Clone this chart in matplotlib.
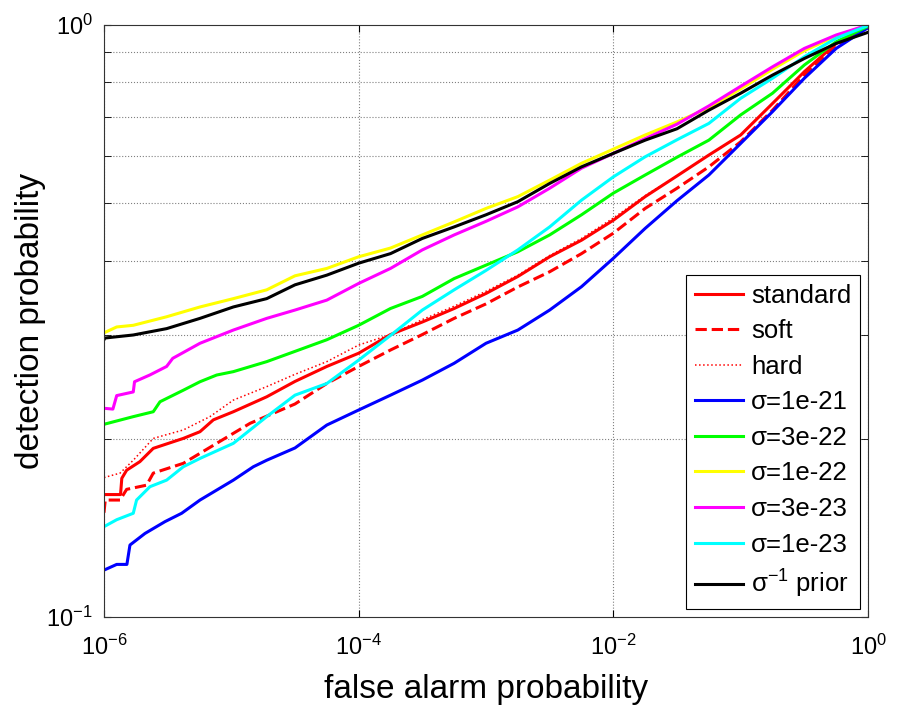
import numpy as np
import matplotlib
matplotlib.use('Agg')
import matplotlib.pyplot as plt
from matplotlib.ticker import FixedLocator, NullFormatter, NullLocator, LogFormatterSciNotation

plt.rcParams['font.family'] = ['Liberation Sans', 'DejaVu Sans']
plt.rcParams['mathtext.fontset'] = 'custom'
plt.rcParams['mathtext.rm'] = 'Liberation Sans'
plt.rcParams['mathtext.it'] = 'Liberation Sans:italic'
plt.rcParams['mathtext.bf'] = 'Liberation Sans:bold'

# log10(false alarm probability) grid shared by the right part of every curve
right_logfap = [-4.5, -4.25, -4.0, -3.75, -3.5, -3.25, -3.0, -2.75, -2.5, -2.25,
                -2.0, -1.75, -1.5, -1.25, -1.0, -0.75, -0.5, -0.25, 0.0]

# standard
std_left_x = [-6.0, -5.87, -5.86, -5.822, -5.718, -5.613, -5.377, -5.246, -5.141, -4.984, -4.722]
std_left_y = [0.161, 0.161, 0.1715, 0.177, 0.183, 0.1927, 0.2003, 0.2056, 0.2153, 0.2222, 0.2355]
std_right_y = [0.250, 0.265, 0.279, 0.300, 0.315, 0.332, 0.352, 0.376, 0.406, 0.433,
               0.468, 0.513, 0.556, 0.603, 0.652, 0.737, 0.834, 0.931, 0.99]

# soft
soft_left_x = [-6.0, -5.99, -5.874, -5.822, -5.665, -5.613, -5.377, -5.115, -4.853]
soft_left_y = [0.150, 0.1576, 0.1576, 0.1643, 0.167, 0.175, 0.1818, 0.1965, 0.2124]
soft_right_y = [0.229, 0.248, 0.265, 0.2825, 0.300, 0.3195, 0.338, 0.361, 0.383, 0.411,
                0.445, 0.490, 0.530, 0.576, 0.635, 0.718, 0.823, 0.925, 0.99]

# hard
hard_left_x = [-6.0, -5.874, -5.77, -5.613, -5.377, -5.168, -4.984, -4.722]
hard_left_y = [0.172, 0.175, 0.184, 0.2003, 0.207, 0.218, 0.2325, 0.245]
hard_right_y = [0.257, 0.270, 0.288, 0.300, 0.318, 0.335, 0.355, 0.378, 0.408, 0.436,
                0.472, 0.515, 0.556, 0.603, 0.652, 0.737, 0.834, 0.931, 0.99]

# sigma = 1e-21
s1e21_left_x = [-6.0, -5.90, -5.82, -5.796, -5.678, -5.521, -5.39, -5.246, -4.984, -4.827, -4.722]
s1e21_left_y = [0.120, 0.1227, 0.1227, 0.1323, 0.1384, 0.1449, 0.1497, 0.1576, 0.1703, 0.1794, 0.184]
s1e21_right_y = [0.193, 0.211, 0.2237, 0.237, 0.2513, 0.2683, 0.290, 0.3053, 0.330, 0.3614,
                 0.4036, 0.4534, 0.505, 0.558, 0.631, 0.714, 0.813, 0.913, 0.99]

# sigma = 3e-22
s3e22_left_x = [-6.0, -5.77, -5.613, -5.56, -5.377, -5.246, -5.115, -4.984, -4.722]
s3e22_left_y = [0.2116, 0.218, 0.2222, 0.231, 0.2416, 0.2497, 0.2563, 0.2597, 0.270]
s3e22_right_y = [0.281, 0.294, 0.311, 0.332, 0.348, 0.373, 0.393, 0.414, 0.442, 0.478,
                 0.520, 0.558, 0.598, 0.639, 0.705, 0.767, 0.856, 0.937, 0.995]

# sigma = 1e-22
s1e22_left_x = [-6.0, -5.9, -5.77, -5.508, -5.246, -4.984, -4.722]
s1e22_left_y = [0.302, 0.309, 0.311, 0.3215, 0.334, 0.345, 0.357]
s1e22_right_y = [0.377, 0.388, 0.406, 0.420, 0.442, 0.465, 0.490, 0.513, 0.547, 0.584,
                 0.617, 0.652, 0.686, 0.725, 0.780, 0.842, 0.905, 0.958, 1.0]

# sigma = 3e-23
s3e23_left_x = [-6.0, -5.93, -5.90, -5.77, -5.76, -5.639, -5.508, -5.46, -5.246, -4.984, -4.722]
s3e23_left_y = [0.2252, 0.2245, 0.2366, 0.240, 0.2497, 0.2564, 0.265, 0.2735, 0.290, 0.3053, 0.3195]
s3e23_right_y = [0.330, 0.343, 0.366, 0.388, 0.417, 0.442, 0.466, 0.493, 0.530, 0.573,
                 0.607, 0.643, 0.680, 0.730, 0.788, 0.850, 0.913, 0.962, 1.0]

# sigma = 1e-23
s1e23_left_x = [-6.0, -5.90, -5.77, -5.744, -5.639, -5.508, -5.377, -5.246, -4.984, -4.722]
s1e23_left_y = [0.1421, 0.146, 0.1497, 0.1576, 0.166, 0.1703, 0.1794, 0.1853, 0.1965, 0.218]
s1e23_right_y = [0.237, 0.248, 0.2716, 0.299, 0.330, 0.357, 0.385, 0.417, 0.456, 0.506,
                 0.554, 0.599, 0.640, 0.682, 0.752, 0.813, 0.884, 0.950, 0.998]

# sigma^-1 prior
prior_left_x = [-6.0, -5.992, -5.77, -5.508, -5.246, -4.984, -4.722]
prior_left_y = [0.294, 0.296, 0.2995, 0.307, 0.3195, 0.334, 0.345]
prior_right_y = [0.364, 0.378, 0.396, 0.411, 0.436, 0.456, 0.478, 0.503, 0.540, 0.576,
                 0.607, 0.639, 0.668, 0.718, 0.767, 0.823, 0.878, 0.931, 0.972]

curves = [
    ('standard', std_left_x, std_left_y, std_right_y, (1, 0, 0), '-', 2.2),
    ('soft', soft_left_x, soft_left_y, soft_right_y, (1, 0, 0), '--', 2.2),
    ('hard', hard_left_x, hard_left_y, hard_right_y, (1, 0, 0), ':', 1.1),
    ('σ=1e-21', s1e21_left_x, s1e21_left_y, s1e21_right_y, (0, 0, 1), '-', 2.2),
    ('σ=3e-22', s3e22_left_x, s3e22_left_y, s3e22_right_y, (0, 1, 0), '-', 2.2),
    ('σ=1e-22', s1e22_left_x, s1e22_left_y, s1e22_right_y, (1, 1, 0), '-', 2.2),
    ('σ=3e-23', s3e23_left_x, s3e23_left_y, s3e23_right_y, (1, 0, 1), '-', 2.2),
    ('σ=1e-23', s1e23_left_x, s1e23_left_y, s1e23_right_y, (0, 1, 1), '-', 2.2),
    (r'σ$^{\mathdefault{-1}}$ prior', prior_left_x, prior_left_y, prior_right_y, (0, 0, 0), '-', 2.2),
]

fig = plt.figure(figsize=(9.01, 7.07), dpi=100)
ax = fig.add_axes([0.1154, 0.1273, 0.8480, 0.8373])

for label, lx, ly, ry, color, ls, lw in curves:
    logfap = np.array(lx + right_logfap)
    pdet = np.array(ly + ry)
    ax.plot(10.0 ** logfap, pdet, color=color, linestyle=ls, linewidth=lw, label=label)

ax.set_xscale('log')
ax.set_yscale('log')
ax.set_xlim(1e-6, 1)
ax.set_ylim(0.1, 1)

ax.xaxis.set_major_locator(FixedLocator([1e-6, 1e-4, 1e-2, 1]))
ax.xaxis.set_major_formatter(LogFormatterSciNotation())
ax.xaxis.set_minor_locator(NullLocator())
ax.yaxis.set_major_locator(FixedLocator([0.1, 1]))
ax.yaxis.set_major_formatter(LogFormatterSciNotation())
ax.yaxis.set_minor_locator(FixedLocator([0.2, 0.3, 0.4, 0.5, 0.6, 0.7, 0.8, 0.9]))
ax.yaxis.set_minor_formatter(NullFormatter())

ax.tick_params(which='both', direction='in', top=True, right=True, labelsize=17)
ax.tick_params(which='major', length=5)
ax.tick_params(which='minor', length=5)
ax.tick_params(axis='x', pad=13)
ax.tick_params(axis='y', pad=8)

ax.grid(True, which='major', axis='x', linestyle=':', color='0.5', linewidth=0.8)
ax.grid(True, which='minor', axis='y', linestyle=':', color='0.5', linewidth=0.8)
for sp in ax.spines.values():
    sp.set_color('0.2')

ax.set_xlabel('false alarm probability', fontsize=24, labelpad=10)
ax.set_ylabel('detection probability', fontsize=24, labelpad=0)

leg = ax.legend(loc='lower right', fontsize=18.5, frameon=True, fancybox=False,
                edgecolor='black', framealpha=1, borderaxespad=0.3,
                handlelength=1.9, handletextpad=0.3, labelspacing=0.45, borderpad=0.35)
leg.get_frame().set_linewidth(0.8)

fig.savefig('out.png', dpi=100)
